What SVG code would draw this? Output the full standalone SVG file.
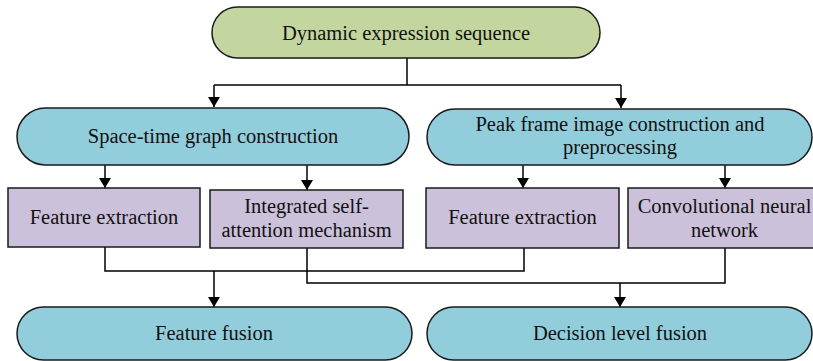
<svg xmlns="http://www.w3.org/2000/svg" width="813" height="361" viewBox="0 0 813 361">
  <defs>
    <marker id="arrow" viewBox="0 0 10 12" refX="10" refY="6" markerWidth="10" markerHeight="12" markerUnits="userSpaceOnUse" orient="auto">
      <path d="M0,0 L10,6 L0,12 Z" fill="#000"/>
    </marker>
    <style>
      .term { stroke: #1a1a1a; stroke-width: 1.5; }
      .green { fill: #c4d6a0; }
      .blue { fill: #92cddc; }
      .box { fill: #ccc1da; stroke: #1a1a1a; stroke-width: 1.5; }
      .wire { fill: none; stroke: #000; stroke-width: 1.5; }
      text { font-family: "Liberation Serif", "Times New Roman", serif; font-size: 20.5px; fill: #111; text-anchor: middle; }
    </style>
  </defs>

  <g id="connectors">
    <!-- split from the sequence -->
    <path class="wire" d="M407,58 V85"/>
    <path class="wire" d="M214,85 H621"/>
    <path class="wire" d="M214,85 V107" marker-end="url(#arrow)"/>
    <path class="wire" d="M621,85 V108" marker-end="url(#arrow)"/>
    <!-- branch into sub-steps -->
    <path class="wire" d="M105,165 V188" marker-end="url(#arrow)"/>
    <path class="wire" d="M307,165 V190" marker-end="url(#arrow)"/>
    <path class="wire" d="M523,165 V188" marker-end="url(#arrow)"/>
    <path class="wire" d="M725,165 V188" marker-end="url(#arrow)"/>
    <!-- feature fusion merge -->
    <path class="wire" d="M105,247 V271 H524 V248"/>
    <path class="wire" d="M214,271 V307" marker-end="url(#arrow)"/>
    <!-- decision fusion merge -->
    <path class="wire" d="M307,248 V283 H725 V248"/>
    <path class="wire" d="M620,283 V307" marker-end="url(#arrow)"/>
  </g>

  <g id="dynamic-sequence">
    <rect class="term green" x="212" y="7" width="388" height="51" rx="25.5"/>
    <text x="406" y="39.5">Dynamic expression sequence</text>
  </g>

  <g id="space-time-graph">
    <rect class="term blue" x="17" y="108" width="392" height="57" rx="28.5"/>
    <text x="213" y="143">Space-time graph construction</text>
  </g>

  <g id="peak-frame">
    <rect class="term blue" x="427" y="109" width="385" height="56" rx="28"/>
    <text x="620" y="131">Peak frame image construction and</text>
    <text x="620" y="154">preprocessing</text>
  </g>

  <g id="feature-extraction-1">
    <rect class="box" x="8" y="188" width="192" height="59"/>
    <text x="104" y="224">Feature extraction</text>
  </g>

  <g id="self-attention">
    <rect class="box" x="210" y="190" width="193" height="58"/>
    <text x="306.5" y="213">Integrated self-</text>
    <text x="306.5" y="237">attention mechanism</text>
  </g>

  <g id="feature-extraction-2">
    <rect class="box" x="426" y="188" width="193" height="60"/>
    <text x="522.5" y="224">Feature extraction</text>
  </g>

  <g id="cnn">
    <rect class="box" x="628" y="188" width="194" height="60"/>
    <text x="724.5" y="213">Convolutional neural</text>
    <text x="724.5" y="237">network</text>
  </g>

  <g id="feature-fusion">
    <rect class="term blue" x="17" y="307" width="395" height="53" rx="26.5"/>
    <text x="214" y="340">Feature fusion</text>
  </g>

  <g id="decision-fusion">
    <rect class="term blue" x="427" y="307" width="385" height="53" rx="26.5"/>
    <text x="620" y="340">Decision level fusion</text>
  </g>
</svg>
